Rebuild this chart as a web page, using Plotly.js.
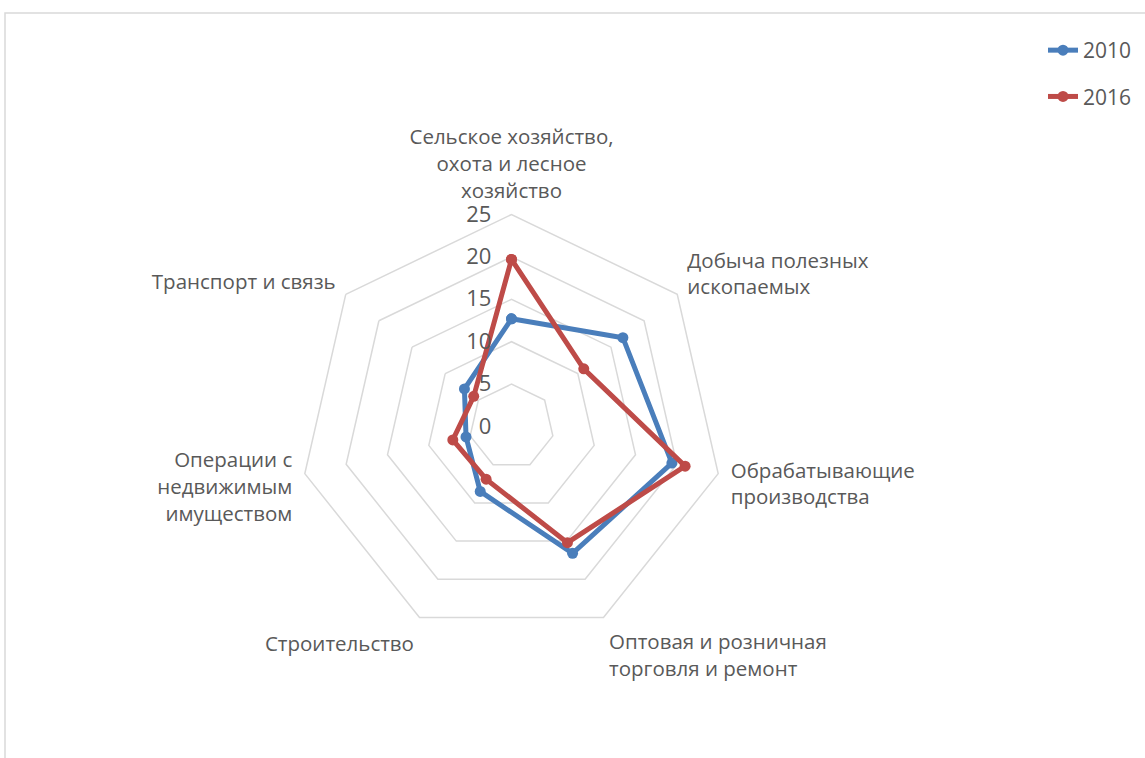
<!DOCTYPE html>
<html>
<head>
<meta charset="utf-8">
<script src="https://cdn.plot.ly/plotly-3.0.1.min.js"></script>
<style>html,body{margin:0;padding:0;background:#fff;}#chart{width:1145px;height:758px;}</style>
</head>
<body>
<div id="chart"></div>
<script>
const categories = [
  "Сельское хозяйство,<br>охота и лесное<br>хозяйство",
  "Добыча полезных<br>ископаемых",
  "Обрабатывающие<br>производства",
  "Оптовая и розничная<br>торговля и ремонт",
  "Строительство",
  "Операции с<br>недвижимым<br>имуществом",
  "Транспорт и связь"
];
const values2010 = [12.7, 16.8, 19.4, 16.6, 8.5, 5.5, 7.1];
const values2016 = [19.7, 10.9, 21.0, 15.2, 6.9, 7.1, 5.7];
const seriesNames = ["2010", "2016"];
const radialTicks = [0, 5, 10, 15, 20, 25];

const close = a => a.concat([a[0]]);
const cats = close(categories);

function trace(vals, name, color, grp) {
  return {
    type: "scatterpolar",
    r: close(vals),
    theta: cats,
    name: name,
    legendgroup: grp,
    mode: "lines+markers",
    line: {color: color, width: 5},
    marker: {color: color, size: 11},
    cliponaxis: false
  };
}

const data = [
  trace(values2010, seriesNames[0], "#4A7EBB", "a"),
  trace(values2016, seriesNames[1], "#BE4B48", "b")
];

const W = 1145, H = 758, cx = 511.5, cy = 426.5, R = 212;

const layout = {
  width: W, height: H,
  margin: {l: 0, r: 0, t: 0, b: 0},
  paper_bgcolor: "#ffffff",
  font: {family: "Open Sans, DejaVu Sans, sans-serif", size: 20.5, color: "#595959"},
  showlegend: true,
  legend: {
    x: 1043 / W, y: 1 - 30 / H, xanchor: "left", yanchor: "top",
    font: {size: 21, color: "#595959"},
    tracegroupgap: 16,
    bgcolor: "rgba(0,0,0,0)"
  },
  polar: {
    domain: {x: [(cx - R) / W, (cx + R) / W], y: [(H - cy - R) / H, (H - cy + R) / H]},
    gridshape: "linear",
    bgcolor: "rgba(0,0,0,0)",
    radialaxis: {
      range: [0, 25],
      tickvals: radialTicks,
      ticktext: radialTicks.map(String),
      angle: 90,
      side: "counterclockwise",
      tickangle: 90,
      showline: false,
      ticks: "outside",
      ticklen: 12,
      tickcolor: "rgba(0,0,0,0)",
      gridcolor: "#D9D9D9",
      gridwidth: 1.5,
      tickfont: {size: 22, color: "#595959"}
    },
    angularaxis: {
      direction: "clockwise",
      rotation: 90,
      showgrid: false,
      showline: true,
      linecolor: "#D9D9D9",
      linewidth: 1.5,
      ticks: "outside",
      ticklen: 8,
      tickcolor: "rgba(0,0,0,0)",
      tickfont: {size: 20.5, color: "#595959"}
    }
  },
  shapes: [{
    type: "rect", xref: "paper", yref: "paper",
    x0: 5 / W, x1: 1.01, y0: -0.01, y1: 1 - 13 / H,
    line: {color: "#D9D9D9", width: 1.5}
  }]
};

Plotly.newPlot("chart", data, layout, {displayModeBar: false, staticPlot: true});
</script>
</body>
</html>
